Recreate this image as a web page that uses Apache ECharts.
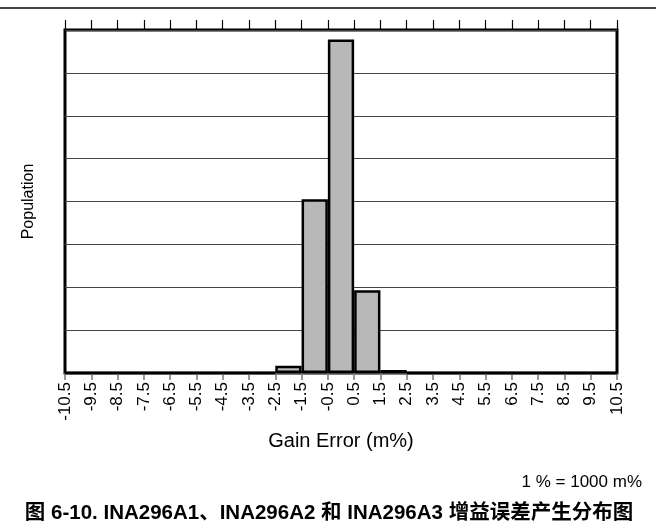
<!DOCTYPE html>
<html>
<head>
<meta charset="utf-8">
<script src="https://cdn.jsdelivr.net/npm/echarts@6/dist/echarts.min.js"></script>
<style>
  html, body { margin: 0; padding: 0; background: #fff; }
  #chart { width: 656px; height: 529px; }
</style>
</head>
<body>
<div id="chart"></div>
<script>
// bin edges shown as tick labels (m%)
const tickLabels = ['-10.5', '-9.5', '-8.5', '-7.5', '-6.5', '-5.5', '-4.5', '-3.5', '-2.5', '-1.5', '-0.5',
  '0.5', '1.5', '2.5', '3.5', '4.5', '5.5', '6.5', '7.5', '8.5', '9.5', '10.5'];
// one bin between each pair of edges
const bins = ['-10', '-9', '-8', '-7', '-6', '-5', '-4', '-3', '-2', '-1', '0',
  '1', '2', '3', '4', '5', '6', '7', '8', '9', '10'];
// population per bin (in grid units, no scale shown)
const population = [0, 0, 0, 0, 0, 0, 0, 0, 0.17, 4.05, 7.78, 1.93, 0.07, 0, 0, 0, 0, 0, 0, 0, 0];

const font = 'Liberation Sans, Arial, Noto Sans CJK SC, sans-serif';
const chart = echarts.init(document.getElementById('chart'));

const option = {
  animation: false,
  grid: {
    left: 65, right: 39, top: 30, bottom: 156,
    show: true, borderColor: '#000', borderWidth: 3, backgroundColor: 'transparent'
  },
  xAxis: [
    {
      type: 'category', data: bins, boundaryGap: true,
      axisLine: { show: false }, axisTick: { show: false }, axisLabel: { show: false }
    },
    {
      // bottom edge labels
      type: 'value', min: 0, max: 21, interval: 1, position: 'bottom',
      axisLine: { show: false },
      axisTick: { show: true, length: 7, lineStyle: { color: '#777', width: 1.5 } },
      axisLabel: {
        rotate: 90, margin: 9, fontSize: 17, color: '#000', fontFamily: font,
        formatter: v => tickLabels[v]
      },
      splitLine: { show: false }
    },
    {
      // top edge ticks
      type: 'value', min: 0, max: 21, interval: 1, position: 'top',
      axisLine: { show: false },
      axisTick: { show: true, length: 10, lineStyle: { color: '#000', width: 1.2 } },
      axisLabel: { show: false },
      splitLine: { show: false }
    }
  ],
  yAxis: {
    type: 'value', min: 0, max: 8, interval: 1,
    name: 'Population', nameLocation: 'middle', nameGap: 28, nameRotate: 90,
    nameTextStyle: { fontSize: 16, color: '#000', fontFamily: font },
    axisLine: { show: false }, axisTick: { show: false }, axisLabel: { show: false },
    splitLine: { show: true, lineStyle: { color: '#444', width: 1 } }
  },
  series: [{
    type: 'bar',
    xAxisIndex: 0,
    data: population,
    barWidth: '100%',
    itemStyle: { color: '#b8b8b8', borderColor: '#000', borderWidth: 2.5 }
  }],
  graphic: [
    { type: 'rect', shape: { x: 0, y: 7, width: 656, height: 2 }, style: { fill: '#444' } },
    {
      type: 'text', x: 341, y: 441,
      style: { text: 'Gain Error (m%)', font: '20px ' + font, fill: '#000', align: 'center', verticalAlign: 'middle' }
    },
    {
      type: 'text', x: 642, y: 482,
      style: { text: '1 % = 1000 m%', font: '17px ' + font, fill: '#000', align: 'right', verticalAlign: 'middle' }
    },
    {
      type: 'text', x: 329, y: 513,
      style: {
        text: '图 6-10. INA296A1、INA296A2 和 INA296A3 增益误差产生分布图',
        font: 'bold 20.5px ' + font, fill: '#000', align: 'center', verticalAlign: 'middle'
      }
    }
  ]
};
chart.setOption(option);
</script>
</body>
</html>
